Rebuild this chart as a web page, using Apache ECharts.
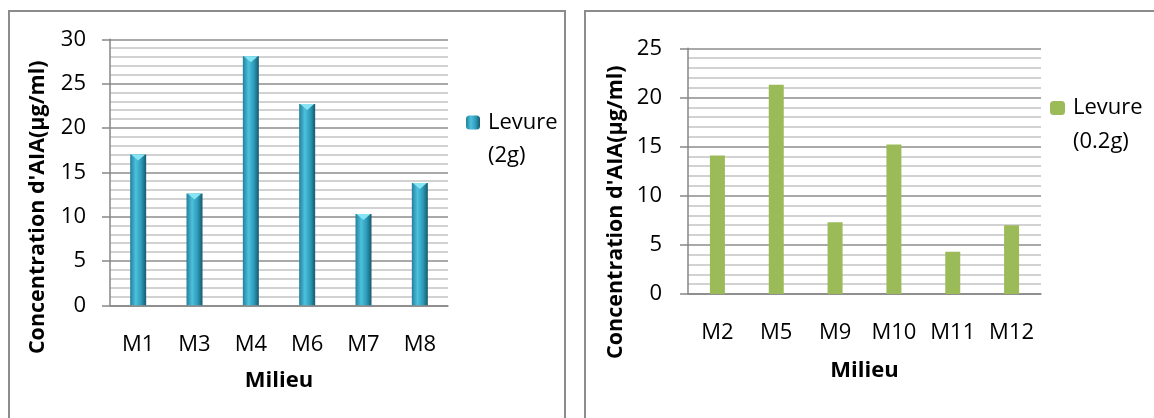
<!DOCTYPE html>
<html>
<head>
<meta charset="utf-8">
<script src="https://cdn.jsdelivr.net/npm/echarts@6/dist/echarts.min.js"></script>
<style>
  html, body { margin: 0; padding: 0; background: #ffffff; }
  #chart { width: 1154px; height: 418px; }
</style>
</head>
<body>
<div id="chart"></div>
<script>
// Concentration d'AIA par milieu — levure 2 g (gauche) et levure 0.2 g (droite)
const milieuxA = ['M1', 'M3', 'M4', 'M6', 'M7', 'M8'];
const aiaA = [17.0, 12.6, 28.1, 22.7, 10.3, 13.8];
const serieA = 'Levure (2g)';
const yMaxA = 30;

const milieuxB = ['M2', 'M5', 'M9', 'M10', 'M11', 'M12'];
const aiaB = [14.1, 21.3, 7.3, 15.2, 4.3, 7.0];
const serieB = 'Levure (0.2g)';
const yMaxB = 25;

const yStep = 5;
const yTitle = "Concentration d'AIA(µg/ml)";
const xTitle = 'Milieu';

const FONT = '"Open Sans", "Liberation Sans", sans-serif';
const AXIS_GREY = '#868686';

const tealGradient = new echarts.graphic.LinearGradient(0, 0, 1, 0, [
  { offset: 0, color: '#23809B' },
  { offset: 0.35, color: '#4CC1DD' },
  { offset: 0.7, color: '#2C9AB8' },
  { offset: 1, color: '#17596C' }
]);

function yAxisFor(gridIndex, max, labelMargin, namePad) {
  return {
    type: 'value', gridIndex, min: 0, max, interval: yStep,
    name: yTitle, nameLocation: 'middle', nameRotate: 90, nameGap: 61,
    nameTextStyle: { fontFamily: FONT, fontSize: 21.5, fontWeight: 'bold', color: '#000', padding: namePad },
    axisLine: { show: true, lineStyle: { color: AXIS_GREY, width: 1.5 } },
    axisTick: { show: true, length: 8, lineStyle: { color: AXIS_GREY, width: 1.5 } },
    axisLabel: { fontFamily: FONT, fontSize: 22, color: '#000', margin: labelMargin },
    splitLine: { show: true, lineStyle: { color: '#8C8C8C', width: 1.5 } },
    minorTick: { show: false, splitNumber: 5 },
    minorSplitLine: { show: true, lineStyle: { color: '#C4C4C4', width: 1.5 } }
  };
}

function xAxisFor(gridIndex, cats, nameGap) {
  return {
    type: 'category', gridIndex, data: cats,
    name: xTitle, nameLocation: 'middle', nameGap,
    nameTextStyle: { fontFamily: FONT, fontSize: 22, fontWeight: 'bold', color: '#000' },
    axisLine: { show: true, lineStyle: { color: AXIS_GREY, width: 1.5 } },
    axisTick: { show: false },
    axisLabel: { fontFamily: FONT, fontSize: 22, color: '#000', margin: 28 },
    splitLine: { show: false }
  };
}

// legend text: blank first line so the marker sits beside the first word
const legendLabel = n => '\n' + n.replace(' ', '\n');

const chart = echarts.init(document.getElementById('chart'), null, { renderer: 'canvas' });

chart.setOption({
  animation: false,
  backgroundColor: '#ffffff',
  graphic: [
    { type: 'rect', shape: { x: 9, y: 11, width: 556, height: 420 },
      style: { fill: 'none', stroke: '#8C8C8C', lineWidth: 2 }, silent: true },
    { type: 'rect', shape: { x: 585, y: 11, width: 580, height: 420 },
      style: { fill: 'none', stroke: '#8C8C8C', lineWidth: 2 }, silent: true }
  ],
  grid: [
    { left: 110, top: 39.3, width: 338, height: 266 },
    { left: 688, top: 48.3, width: 353, height: 245.7 }
  ],
  legend: [
    {
      data: [serieA], left: 466, top: 73, padding: 0, orient: 'vertical',
      itemWidth: 14, itemHeight: 14,
      formatter: legendLabel,
      textStyle: { fontFamily: FONT, fontSize: 22, color: '#000', lineHeight: 33, padding: [0, 0, 0, 3] }
    },
    {
      data: [serieB], left: 1050, top: 57, padding: 0, orient: 'vertical',
      itemWidth: 15, itemHeight: 14,
      formatter: legendLabel,
      textStyle: { fontFamily: FONT, fontSize: 22, color: '#000', lineHeight: 34, padding: [0, 0, 0, 3] }
    }
  ],
  xAxis: [xAxisFor(0, milieuxA, 64), xAxisFor(1, milieuxB, 66)],
  yAxis: [yAxisFor(0, yMaxA, 24, [0, 70, 0, 0]), yAxisFor(1, yMaxB, 26, [0, 82, 0, 0])],
  series: [
    {
      name: serieA, type: 'bar', xAxisIndex: 0, yAxisIndex: 0,
      data: aiaA, barWidth: 16,
      itemStyle: { color: tealGradient }
    },
    {
      name: 'capA', type: 'pictorialBar', xAxisIndex: 0, yAxisIndex: 0,
      data: aiaA, symbol: 'triangle', symbolRotate: 180,
      symbolSize: [14, 6], symbolPosition: 'end', z: 5,
      itemStyle: { color: '#86E4F4' }, silent: true
    },
    {
      name: serieB, type: 'bar', xAxisIndex: 1, yAxisIndex: 1,
      data: aiaB, barWidth: 15,
      itemStyle: { color: '#9BBB59' }
    }
  ]
});
</script>
</body>
</html>
